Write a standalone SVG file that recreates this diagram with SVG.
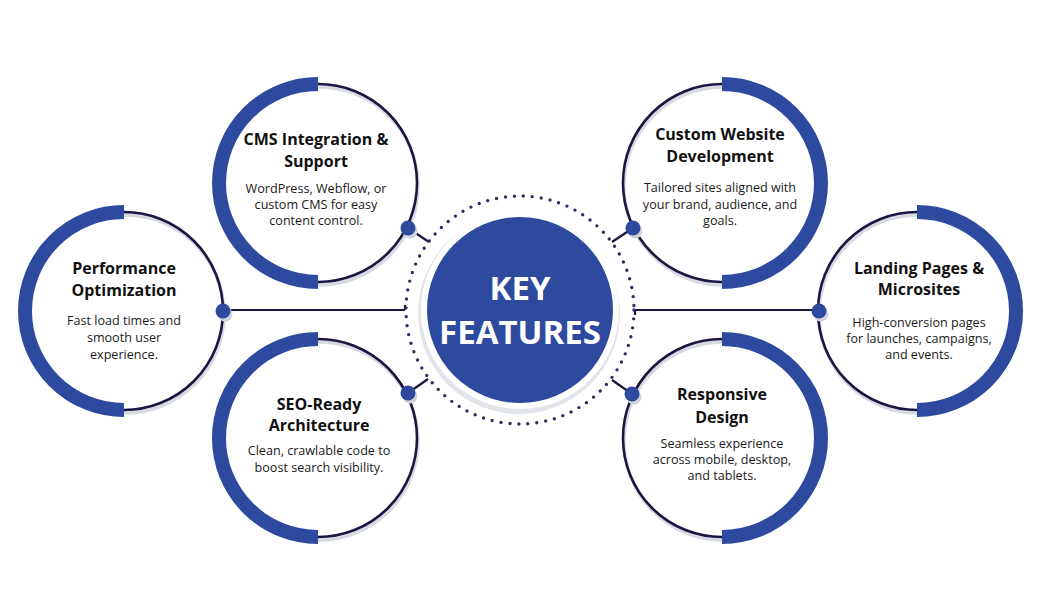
<svg xmlns="http://www.w3.org/2000/svg" width="1050" height="600" viewBox="0 0 1050 600">
<defs>
<style>
.shadow{fill:none;stroke:#d6dbe2;stroke-width:3.5}
.thin{fill:none;stroke:#1c1542;stroke-width:2.6}
.arc{fill:none;stroke:#2d4a9e;stroke-width:14}
.dot{fill:#2d4a9e}
.dotsh{fill:#cfd4db}
.conn{fill:none;stroke:#1c1542;stroke-width:2.2}
.title{font-family:"Open Sans","Liberation Sans",sans-serif;font-weight:700;font-size:16px;fill:#111;text-anchor:middle}
.desc{font-family:"Open Sans","Liberation Sans",sans-serif;font-size:12.6px;fill:#1a1a1a;text-anchor:middle}
.key{font-family:"Open Sans","Liberation Sans",sans-serif;font-weight:700;font-size:33px;fill:#fff;text-anchor:middle}
</style>
</defs>
<rect width="1050" height="600" fill="#fff"/>

<g id="connectors">
<path class="conn" d="M223 310 H405 M405 310 V305"/>
<path class="conn" d="M635 310 H819 M635 310 V315"/>
<path class="conn" d="M408 228 L429 242"/>
<path class="conn" d="M408 393 L428 379"/>
<path class="conn" d="M633 228 L612 242"/>
<path class="conn" d="M632 394 L612 380"/>
</g>

<g id="center">
<circle cx="519" cy="313" r="101" fill="#e2e6eb"/>
<circle cx="520" cy="310" r="99" fill="#fff"/>
<circle cx="520" cy="310" r="114" fill="none" stroke="#2a2f5e" stroke-width="3.4" stroke-linecap="round" stroke-dasharray="0 9"/>
<circle cx="520" cy="310" r="93" fill="#2d4a9e"/>
<text class="key" x="520" y="300">KEY</text>
<text class="key" x="520" y="344">FEATURES</text>
</g>

<g id="performance">
<circle class="shadow" cx="125" cy="314" r="99"/>
<circle class="thin" cx="124" cy="311" r="99"/>
<path class="arc" d="M124 212 A99 99 0 0 0 124 410"/>
<circle class="dotsh" cx="225" cy="314" r="7.5"/>
<circle class="dot" cx="223" cy="311" r="7.5"/>
<text class="title" x="124" y="274">Performance</text>
<text class="title" x="124" y="296">Optimization</text>
<text class="desc" x="124" y="325">Fast load times and</text>
<text class="desc" x="124" y="342">smooth user</text>
<text class="desc" x="124" y="359">experience.</text>
</g>

<g id="cms">
<circle class="shadow" cx="319" cy="186" r="99"/>
<circle class="thin" cx="318" cy="183" r="99"/>
<path class="arc" d="M318 84 A99 99 0 0 0 318 282"/>
<circle class="dotsh" cx="410" cy="231" r="7.5"/>
<circle class="dot" cx="408" cy="228" r="7.5"/>
<text class="title" x="316" y="145">CMS Integration &amp;</text>
<text class="title" x="316" y="167">Support</text>
<text class="desc" x="316" y="193">WordPress, Webflow, or</text>
<text class="desc" x="316" y="209">custom CMS for easy</text>
<text class="desc" x="316" y="225">content control.</text>
</g>

<g id="seo">
<circle class="shadow" cx="319" cy="441" r="99"/>
<circle class="thin" cx="318" cy="438" r="99"/>
<path class="arc" d="M318 339 A99 99 0 0 0 318 537"/>
<circle class="dotsh" cx="410" cy="396" r="7.5"/>
<circle class="dot" cx="408" cy="393" r="7.5"/>
<text class="title" x="319" y="410">SEO-Ready</text>
<text class="title" x="319" y="431">Architecture</text>
<text class="desc" x="319" y="455">Clean, crawlable code to</text>
<text class="desc" x="319" y="472">boost search visibility.</text>
</g>

<g id="custom">
<circle class="shadow" cx="723" cy="186" r="99"/>
<circle class="thin" cx="722" cy="183" r="99"/>
<path class="arc" d="M722 84 A99 99 0 0 1 722 282"/>
<circle class="dotsh" cx="635" cy="231" r="7.5"/>
<circle class="dot" cx="633" cy="228" r="7.5"/>
<text class="title" x="720" y="140">Custom Website</text>
<text class="title" x="720" y="162">Development</text>
<text class="desc" x="720" y="192">Tailored sites aligned with</text>
<text class="desc" x="720" y="209">your brand, audience, and</text>
<text class="desc" x="720" y="225">goals.</text>
</g>

<g id="responsive">
<circle class="shadow" cx="723" cy="441" r="99"/>
<circle class="thin" cx="722" cy="438" r="99"/>
<path class="arc" d="M722 339 A99 99 0 0 1 722 537"/>
<circle class="dotsh" cx="634" cy="397" r="7.5"/>
<circle class="dot" cx="632" cy="394" r="7.5"/>
<text class="title" x="722" y="400">Responsive</text>
<text class="title" x="722" y="423">Design</text>
<text class="desc" x="722" y="448">Seamless experience</text>
<text class="desc" x="722" y="464">across mobile, desktop,</text>
<text class="desc" x="722" y="480">and tablets.</text>
</g>

<g id="landing">
<circle class="shadow" cx="918" cy="314" r="99"/>
<circle class="thin" cx="917" cy="311" r="99"/>
<path class="arc" d="M917 212 A99 99 0 0 1 917 410"/>
<circle class="dotsh" cx="821" cy="314" r="7.5"/>
<circle class="dot" cx="819" cy="311" r="7.5"/>
<text class="title" x="919" y="274">Landing Pages &amp;</text>
<text class="title" x="919" y="295">Microsites</text>
<text class="desc" x="919" y="327">High-conversion pages</text>
<text class="desc" x="919" y="343">for launches, campaigns,</text>
<text class="desc" x="919" y="359">and events.</text>
</g>
</svg>
